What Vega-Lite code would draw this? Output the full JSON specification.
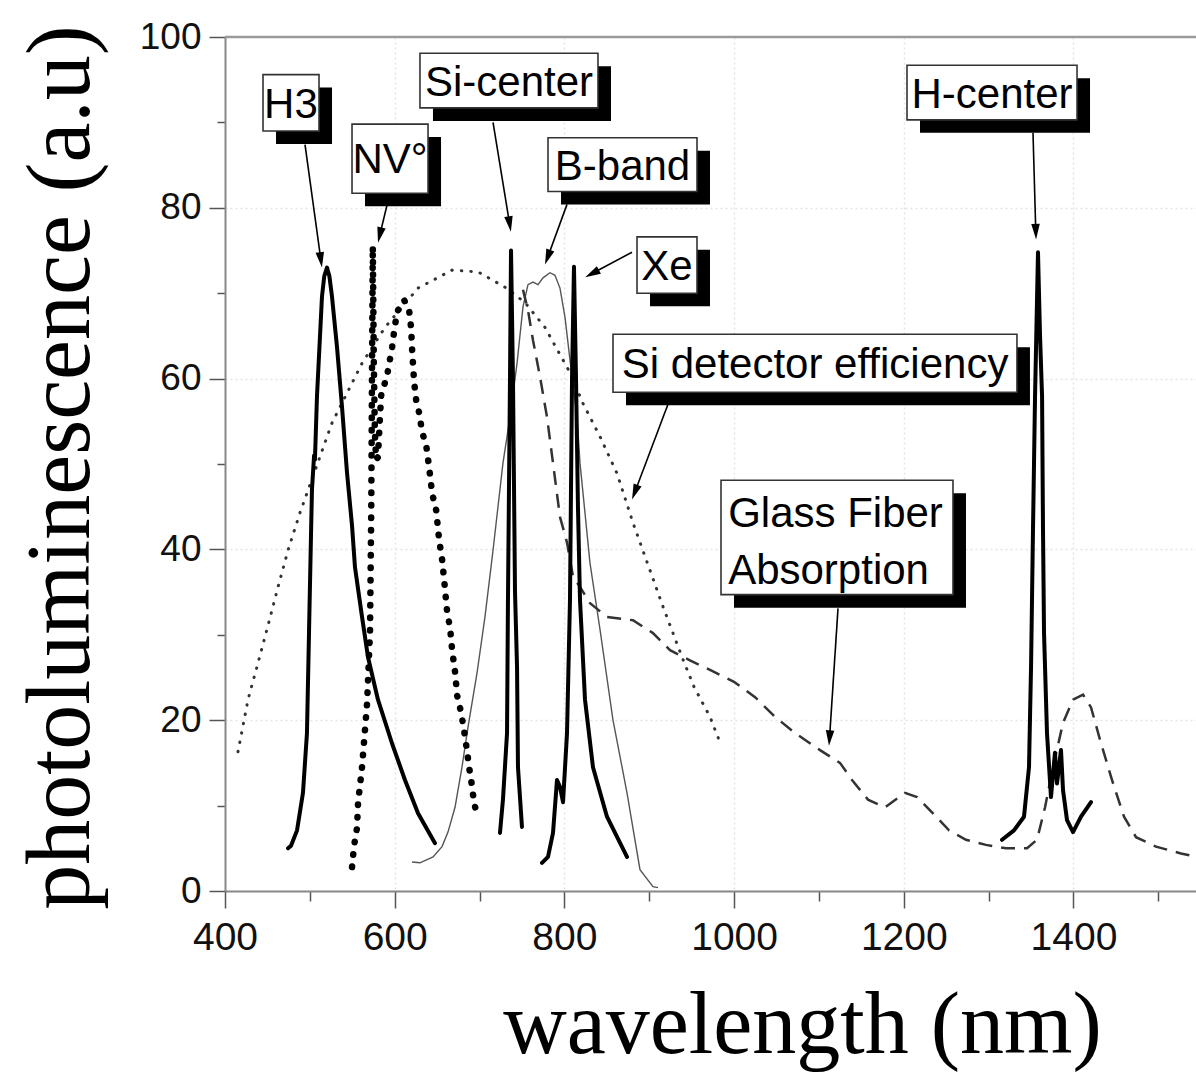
{
  "$schema": "https://vega.github.io/schema/vega-lite/v6.json",
  "autosize": {"type": "none"},
  "padding": {"left": 225, "top": 37, "right": 0, "bottom": 183},
  "width": 972,
  "height": 854,
  "background": "white",
  "config": {
    "view": {"stroke": null},
    "axis": {"domainColor": "#888", "domainWidth": 2, "tickColor": "#555", "tickWidth": 1.5}
  },
  "datasets": {
    "h3": [
      {"nm": 474.3, "pl": 5.0}, {"nm": 477.8, "pl": 5.3}, {"nm": 484.9, "pl": 7.1}, {"nm": 491.9, "pl": 11.5},
      {"nm": 496.6, "pl": 18.5}, {"nm": 499.0, "pl": 30.2}, {"nm": 501.4, "pl": 41.9}, {"nm": 502.5, "pl": 47.0},
      {"nm": 505.0, "pl": 51.0}, {"nm": 506.0, "pl": 50.5}, {"nm": 508.4, "pl": 57.9}, {"nm": 514.3, "pl": 69.6},
      {"nm": 517.0, "pl": 72.0}, {"nm": 520.2, "pl": 73.0}, {"nm": 523.0, "pl": 72.0}, {"nm": 526.1, "pl": 69.6},
      {"nm": 532.0, "pl": 63.7}, {"nm": 537.9, "pl": 56.7}, {"nm": 543.8, "pl": 49.0}, {"nm": 549.7, "pl": 42.8},
      {"nm": 553.2, "pl": 37.9}, {"nm": 561.5, "pl": 32.1}, {"nm": 568.5, "pl": 27.4}, {"nm": 580.3, "pl": 22.4},
      {"nm": 596.8, "pl": 17.3}, {"nm": 612.1, "pl": 13.0}, {"nm": 627.5, "pl": 9.1}, {"nm": 647.5, "pl": 5.6}
    ],
    "nv": [
      {"nm": 549.7, "pl": 2.8}, {"nm": 552.0, "pl": 5.2}, {"nm": 555.6, "pl": 7.4}, {"nm": 556.8, "pl": 10.3},
      {"nm": 561.5, "pl": 14.5}, {"nm": 567.4, "pl": 21.9}, {"nm": 570.9, "pl": 30.3}, {"nm": 572.4, "pl": 45.0},
      {"nm": 573.3, "pl": 62.0}, {"nm": 574.2, "pl": 75.5}, {"nm": 575.4, "pl": 62.0}, {"nm": 576.6, "pl": 54.0},
      {"nm": 578.0, "pl": 50.5}, {"nm": 580.3, "pl": 50.8}, {"nm": 582.7, "pl": 55.5}, {"nm": 584.0, "pl": 58.0},
      {"nm": 591.1, "pl": 60.4}, {"nm": 597.0, "pl": 63.7}, {"nm": 599.3, "pl": 65.5}, {"nm": 602.8, "pl": 67.8},
      {"nm": 611.1, "pl": 69.2}, {"nm": 617.0, "pl": 68.0}, {"nm": 619.4, "pl": 65.9}, {"nm": 620.6, "pl": 63.3},
      {"nm": 622.9, "pl": 59.6}, {"nm": 625.3, "pl": 57.5}, {"nm": 628.8, "pl": 56.0}, {"nm": 632.4, "pl": 53.7},
      {"nm": 637.1, "pl": 52.2}, {"nm": 640.6, "pl": 49.6}, {"nm": 644.2, "pl": 46.5}, {"nm": 648.9, "pl": 44.6},
      {"nm": 652.4, "pl": 41.1}, {"nm": 655.9, "pl": 38.8}, {"nm": 658.3, "pl": 36.4}, {"nm": 661.8, "pl": 32.7},
      {"nm": 665.3, "pl": 30.8}, {"nm": 667.7, "pl": 28.2}, {"nm": 671.2, "pl": 25.6}, {"nm": 673.6, "pl": 22.9},
      {"nm": 678.3, "pl": 20.9}, {"nm": 681.8, "pl": 18.8}, {"nm": 685.4, "pl": 16.3}, {"nm": 687.7, "pl": 14.5},
      {"nm": 690.1, "pl": 13.0}, {"nm": 693.6, "pl": 10.3}, {"nm": 697.2, "pl": 8.9}
    ],
    "sidet": [
      {"nm": 415.3, "pl": 16.3}, {"nm": 427.1, "pl": 22.4}, {"nm": 438.9, "pl": 26.7}, {"nm": 450.7, "pl": 31.1},
      {"nm": 462.5, "pl": 35.6}, {"nm": 474.3, "pl": 39.9}, {"nm": 488.4, "pl": 44.3}, {"nm": 526.1, "pl": 54.8},
      {"nm": 561.5, "pl": 61.8}, {"nm": 588.6, "pl": 66.0}, {"nm": 627.5, "pl": 70.6}, {"nm": 667.5, "pl": 72.7},
      {"nm": 698.2, "pl": 72.5}, {"nm": 730.0, "pl": 70.7}, {"nm": 753.6, "pl": 68.9}, {"nm": 777.1, "pl": 66.0},
      {"nm": 806.6, "pl": 60.7}, {"nm": 821.9, "pl": 57.1}, {"nm": 842.0, "pl": 53.2}, {"nm": 862.0, "pl": 48.9},
      {"nm": 880.9, "pl": 43.1}, {"nm": 916.2, "pl": 33.3}, {"nm": 938.6, "pl": 27.4}, {"nm": 952.8, "pl": 23.9},
      {"nm": 971.6, "pl": 20.4}, {"nm": 983.4, "pl": 17.4}
    ],
    "sicenter": [
      {"nm": 724.1, "pl": 6.8}, {"nm": 727.6, "pl": 10.7}, {"nm": 732.4, "pl": 18.5}, {"nm": 733.5, "pl": 34.1},
      {"nm": 735.9, "pl": 60.0}, {"nm": 737.1, "pl": 75.0}, {"nm": 739.4, "pl": 60.0}, {"nm": 741.8, "pl": 35.0},
      {"nm": 744.2, "pl": 26.2}, {"nm": 745.3, "pl": 14.5}, {"nm": 750.0, "pl": 7.5}
    ],
    "bband": [
      {"nm": 620.4, "pl": 3.4}, {"nm": 629.8, "pl": 3.3}, {"nm": 645.2, "pl": 4.0}, {"nm": 655.8, "pl": 5.2},
      {"nm": 662.8, "pl": 6.9}, {"nm": 671.1, "pl": 9.8}, {"nm": 679.3, "pl": 14.5}, {"nm": 686.4, "pl": 19.2},
      {"nm": 697.0, "pl": 25.5}, {"nm": 706.4, "pl": 32.1}, {"nm": 715.9, "pl": 39.9}, {"nm": 720.6, "pl": 44.0},
      {"nm": 727.6, "pl": 50.1}, {"nm": 735.9, "pl": 55.5}, {"nm": 744.2, "pl": 61.8}, {"nm": 751.2, "pl": 68.4},
      {"nm": 757.1, "pl": 71.0}, {"nm": 763.0, "pl": 71.3}, {"nm": 768.9, "pl": 71.0}, {"nm": 774.8, "pl": 71.8},
      {"nm": 783.0, "pl": 72.4}, {"nm": 788.9, "pl": 72.1}, {"nm": 794.8, "pl": 70.6}, {"nm": 800.7, "pl": 67.2},
      {"nm": 806.6, "pl": 62.2}, {"nm": 814.9, "pl": 55.5}, {"nm": 818.4, "pl": 50.1}, {"nm": 830.2, "pl": 38.4},
      {"nm": 842.0, "pl": 30.6}, {"nm": 857.3, "pl": 20.0}, {"nm": 873.8, "pl": 11.5}, {"nm": 889.1, "pl": 2.5},
      {"nm": 904.4, "pl": 0.5}, {"nm": 910.3, "pl": 0.4}
    ],
    "xe": [
      {"nm": 773.6, "pl": 3.3}, {"nm": 780.7, "pl": 4.0}, {"nm": 786.6, "pl": 6.8}, {"nm": 791.3, "pl": 13.0},
      {"nm": 794.8, "pl": 12.2}, {"nm": 798.4, "pl": 10.4}, {"nm": 803.1, "pl": 18.5}, {"nm": 806.6, "pl": 34.1},
      {"nm": 809.0, "pl": 60.0}, {"nm": 811.3, "pl": 73.1}, {"nm": 813.7, "pl": 60.0}, {"nm": 816.0, "pl": 45.0},
      {"nm": 818.4, "pl": 34.1}, {"nm": 824.3, "pl": 22.4}, {"nm": 833.7, "pl": 14.5}, {"nm": 850.2, "pl": 8.7},
      {"nm": 873.8, "pl": 4.0}
    ],
    "glass": [
      {"nm": 751.2, "pl": 70.4}, {"nm": 757.1, "pl": 68.0}, {"nm": 763.0, "pl": 64.5}, {"nm": 771.3, "pl": 60.2},
      {"nm": 779.5, "pl": 55.5}, {"nm": 786.6, "pl": 50.1}, {"nm": 794.8, "pl": 43.8}, {"nm": 803.1, "pl": 40.8},
      {"nm": 810.2, "pl": 36.8}, {"nm": 818.4, "pl": 35.6}, {"nm": 830.2, "pl": 33.7}, {"nm": 850.2, "pl": 32.1},
      {"nm": 880.9, "pl": 31.7}, {"nm": 904.4, "pl": 30.2}, {"nm": 924.5, "pl": 28.2}, {"nm": 948.0, "pl": 27.0},
      {"nm": 971.6, "pl": 25.9}, {"nm": 999.9, "pl": 24.5}, {"nm": 1024.7, "pl": 22.7}, {"nm": 1048.2, "pl": 20.4},
      {"nm": 1071.8, "pl": 18.5}, {"nm": 1101.3, "pl": 16.5}, {"nm": 1124.8, "pl": 15.0}, {"nm": 1139.0, "pl": 13.0},
      {"nm": 1157.8, "pl": 10.7}, {"nm": 1177.9, "pl": 9.8}, {"nm": 1201.4, "pl": 11.5}, {"nm": 1215.6, "pl": 11.0},
      {"nm": 1234.4, "pl": 9.1}, {"nm": 1253.3, "pl": 7.1}, {"nm": 1273.3, "pl": 6.0}, {"nm": 1296.9, "pl": 5.4},
      {"nm": 1320.5, "pl": 5.0}, {"nm": 1345.3, "pl": 5.0}, {"nm": 1357.0, "pl": 6.0}, {"nm": 1366.5, "pl": 9.8},
      {"nm": 1375.9, "pl": 14.5}, {"nm": 1387.7, "pl": 19.7}, {"nm": 1399.5, "pl": 22.4}, {"nm": 1411.3, "pl": 23.0},
      {"nm": 1420.7, "pl": 21.5}, {"nm": 1431.3, "pl": 17.7}, {"nm": 1445.4, "pl": 13.0}, {"nm": 1459.6, "pl": 8.7},
      {"nm": 1473.7, "pl": 6.3}, {"nm": 1497.3, "pl": 5.2}, {"nm": 1526.7, "pl": 4.4}, {"nm": 1544.4, "pl": 4.0}
    ],
    "hcenter": [
      {"nm": 1315.8, "pl": 6.0}, {"nm": 1329.9, "pl": 7.1}, {"nm": 1341.7, "pl": 8.7}, {"nm": 1347.6, "pl": 14.5},
      {"nm": 1350.0, "pl": 26.2}, {"nm": 1352.3, "pl": 42.3}, {"nm": 1354.7, "pl": 57.9}, {"nm": 1358.2, "pl": 74.8},
      {"nm": 1360.6, "pl": 65.0}, {"nm": 1363.0, "pl": 57.9}, {"nm": 1364.1, "pl": 42.3}, {"nm": 1365.3, "pl": 30.2},
      {"nm": 1368.8, "pl": 18.5}, {"nm": 1373.5, "pl": 11.0}, {"nm": 1378.2, "pl": 16.2}, {"nm": 1380.6, "pl": 12.6},
      {"nm": 1385.3, "pl": 16.5}, {"nm": 1387.7, "pl": 11.8}, {"nm": 1392.4, "pl": 8.3}, {"nm": 1399.5, "pl": 6.9},
      {"nm": 1408.9, "pl": 8.7}, {"nm": 1420.7, "pl": 10.4}
    ],
    "boxes": [
      {"label": "H3", "x1": 444.8, "x2": 510.8, "y1": 95.6, "y2": 89.0, "lx": 477.7, "ly": 92.3},
      {"label": "NV°", "x1": 549.7, "x2": 639.3, "y1": 89.8, "y2": 81.7, "lx": 594.5, "ly": 85.8},
      {"label": "Si-center", "x1": 629.8, "x2": 839.6, "y1": 98.1, "y2": 91.7, "lx": 734.7, "ly": 94.9},
      {"label": "B-band", "x1": 780.7, "x2": 956.3, "y1": 88.2, "y2": 81.9, "lx": 868.5, "ly": 85.0},
      {"label": "Xe", "x1": 885.6, "x2": 956.3, "y1": 76.6, "y2": 70.0, "lx": 920.9, "ly": 73.3},
      {"label": "H-center", "x1": 1203.8, "x2": 1404.2, "y1": 96.7, "y2": 90.3, "lx": 1304.0, "ly": 93.5},
      {"label": "Si detector efficiency", "x1": 857.3, "x2": 1333.4, "y1": 65.2, "y2": 58.4, "lx": 1095.4, "ly": 61.8},
      {"label": "Glass Fiber\nAbsorption", "x1": 984.6, "x2": 1258.0, "y1": 48.1, "y2": 34.7, "lx": 993.0, "ly": 44.4}
    ],
    "arrows": [
      {"a": "H3", "sx": 494.3, "sy": 87.4, "ex": 513.0, "ey": 73.9, "ang": 172},
      {"a": "NV", "sx": 590.9, "sy": 80.3, "ex": 582.4, "ey": 76.8, "ang": 193},
      {"a": "Si-center", "sx": 715.9, "sy": 90.0, "ex": 735.5, "ey": 78.1, "ang": 171},
      {"a": "B-band", "sx": 803.1, "sy": 80.4, "ex": 780.3, "ey": 74.2, "ang": 200},
      {"a": "Xe", "sx": 879.7, "sy": 74.8, "ex": 832.6, "ey": 72.3, "ang": 242},
      {"a": "H-center", "sx": 1352.3, "sy": 88.8, "ex": 1355.6, "ey": 77.2, "ang": 178},
      {"a": "Si detector", "sx": 922.1, "sy": 57.0, "ex": 883.0, "ey": 46.7, "ang": 201},
      {"a": "Glass", "sx": 1122.5, "sy": 33.1, "ex": 1112.5, "ey": 17.9, "ang": 184}
    ],
    "frame": [{"top": 100}]
  },
  "layer": [
    {
      "data": {"name": "sidet"},
      "mark": {"type": "line", "color": "#333", "strokeWidth": 3, "strokeDash": [0.5, 9], "strokeCap": "round", "clip": true},
      "encoding": {
        "x": {
          "field": "nm", "type": "quantitative",
          "scale": {"domain": [400, 1545.6], "nice": false, "zero": false},
          "axis": {
            "title": "wavelength (nm)",
            "titleFont": "Liberation Serif", "titleFontSize": 88, "titleFontWeight": "normal", "titleColor": "black",
            "titleX": 577, "titleY": 161, "titleBaseline": "alphabetic", "titleAnchor": null,
            "values": [400, 500, 600, 700, 800, 900, 1000, 1100, 1200, 1300, 1400, 1500],
            "format": "d",
            "labelExpr": "datum.value % 200 === 0 ? datum.label : ''",
            "labelFont": "Liberation Sans", "labelFontSize": 39, "labelColor": "#111",
            "labelPadding": 10, "labelOverlap": false, "labelFlush": false, "labelBound": false,
            "tickSize": {"condition": {"test": "datum.value % 200 === 0", "value": 17}, "value": 10},
            "grid": true, "gridColor": "#e4e4e4", "gridDash": [2, 3], "gridWidth": 1.5,
            "gridOpacity": {"condition": {"test": "datum.value % 200 === 0 && datum.value > 400", "value": 1}, "value": 0}
          }
        },
        "y": {
          "field": "pl", "type": "quantitative",
          "scale": {"domain": [0, 100], "nice": false, "zero": false},
          "axis": {
            "title": "photoluminescence (a.u)",
            "titleFont": "Liberation Serif", "titleFontSize": 90, "titleFontWeight": "normal", "titleColor": "black",
            "titleX": -137, "titleY": 430, "titleBaseline": "alphabetic", "titleAnchor": null, "titleAngle": -90,
            "values": [0, 10, 20, 30, 40, 50, 60, 70, 80, 90, 100],
            "labelExpr": "datum.value % 20 === 0 ? datum.label : ''",
            "labelFont": "Liberation Sans", "labelFontSize": 37, "labelColor": "#111",
            "labelPadding": 8, "labelOverlap": false, "labelFlush": false, "labelBound": false,
            "tickSize": {"condition": {"test": "datum.value % 20 === 0", "value": 16}, "value": 8},
            "grid": true, "gridColor": "#e4e4e4", "gridDash": [2, 3], "gridWidth": 1.5,
            "gridOpacity": {"condition": {"test": "datum.value % 20 === 0 && datum.value > 0 && datum.value < 100", "value": 1}, "value": 0}
          }
        }
      }
    },
    {
      "data": {"name": "frame"},
      "mark": {"type": "rule", "color": "#9a9a9a", "strokeWidth": 2.5},
      "encoding": {
        "y": {"field": "top", "type": "quantitative", "scale": {"domain": [0, 100], "nice": false, "zero": false}}
      }
    },
    {
      "data": {"name": "bband"},
      "mark": {"type": "line", "color": "#555", "strokeWidth": 1.4, "clip": true},
      "encoding": {
        "x": {"field": "nm", "type": "quantitative", "scale": {"domain": [400, 1545.6], "nice": false, "zero": false}},
        "y": {"field": "pl", "type": "quantitative", "scale": {"domain": [0, 100], "nice": false, "zero": false}}
      }
    },
    {
      "data": {"name": "glass"},
      "mark": {"type": "line", "color": "#333", "strokeWidth": 2.5, "strokeDash": [14, 9], "clip": true},
      "encoding": {
        "x": {"field": "nm", "type": "quantitative", "scale": {"domain": [400, 1545.6], "nice": false, "zero": false}},
        "y": {"field": "pl", "type": "quantitative", "scale": {"domain": [0, 100], "nice": false, "zero": false}}
      }
    },
    {
      "data": {"name": "nv"},
      "mark": {"type": "line", "color": "black", "strokeWidth": 6.5, "strokeDash": [0.5, 12], "strokeCap": "round", "clip": true},
      "encoding": {
        "x": {"field": "nm", "type": "quantitative", "scale": {"domain": [400, 1545.6], "nice": false, "zero": false}},
        "y": {"field": "pl", "type": "quantitative", "scale": {"domain": [0, 100], "nice": false, "zero": false}}
      }
    },
    {
      "data": {"name": "h3"},
      "mark": {"type": "line", "color": "black", "strokeWidth": 4, "strokeJoin": "round", "strokeCap": "round", "clip": true},
      "encoding": {
        "x": {"field": "nm", "type": "quantitative", "scale": {"domain": [400, 1545.6], "nice": false, "zero": false}},
        "y": {"field": "pl", "type": "quantitative", "scale": {"domain": [0, 100], "nice": false, "zero": false}}
      }
    },
    {
      "data": {"name": "sicenter"},
      "mark": {"type": "line", "color": "black", "strokeWidth": 4, "strokeJoin": "round", "strokeCap": "round", "clip": true},
      "encoding": {
        "x": {"field": "nm", "type": "quantitative", "scale": {"domain": [400, 1545.6], "nice": false, "zero": false}},
        "y": {"field": "pl", "type": "quantitative", "scale": {"domain": [0, 100], "nice": false, "zero": false}}
      }
    },
    {
      "data": {"name": "xe"},
      "mark": {"type": "line", "color": "black", "strokeWidth": 4, "strokeJoin": "round", "strokeCap": "round", "clip": true},
      "encoding": {
        "x": {"field": "nm", "type": "quantitative", "scale": {"domain": [400, 1545.6], "nice": false, "zero": false}},
        "y": {"field": "pl", "type": "quantitative", "scale": {"domain": [0, 100], "nice": false, "zero": false}}
      }
    },
    {
      "data": {"name": "hcenter"},
      "mark": {"type": "line", "color": "black", "strokeWidth": 4, "strokeJoin": "round", "strokeCap": "round", "clip": true},
      "encoding": {
        "x": {"field": "nm", "type": "quantitative", "scale": {"domain": [400, 1545.6], "nice": false, "zero": false}},
        "y": {"field": "pl", "type": "quantitative", "scale": {"domain": [0, 100], "nice": false, "zero": false}}
      }
    },
    {
      "data": {"name": "arrows"},
      "mark": {"type": "rule", "color": "black", "strokeWidth": 1.6},
      "encoding": {
        "x": {"field": "sx", "type": "quantitative", "scale": {"domain": [400, 1545.6], "nice": false, "zero": false}},
        "y": {"field": "sy", "type": "quantitative", "scale": {"domain": [0, 100], "nice": false, "zero": false}},
        "x2": {"field": "ex"},
        "y2": {"field": "ey"}
      }
    },
    {
      "data": {"name": "arrows"},
      "mark": {"type": "point", "filled": true, "color": "black", "opacity": 1, "size": 240, "shape": "M0,-1L0.55,1L-0.55,1Z"},
      "encoding": {
        "x": {"field": "ex", "type": "quantitative", "scale": {"domain": [400, 1545.6], "nice": false, "zero": false}},
        "y": {"field": "ey", "type": "quantitative", "scale": {"domain": [0, 100], "nice": false, "zero": false}},
        "angle": {"field": "ang", "type": "quantitative", "scale": null}
      }
    },
    {
      "data": {"name": "boxes"},
      "mark": {"type": "rect", "color": "black", "xOffset": 13, "x2Offset": 13, "yOffset": 13, "y2Offset": 13},
      "encoding": {
        "x": {"field": "x1", "type": "quantitative", "scale": {"domain": [400, 1545.6], "nice": false, "zero": false}},
        "x2": {"field": "x2"},
        "y": {"field": "y1", "type": "quantitative", "scale": {"domain": [0, 100], "nice": false, "zero": false}},
        "y2": {"field": "y2"}
      }
    },
    {
      "data": {"name": "boxes"},
      "mark": {"type": "rect", "fill": "white", "stroke": "#333", "strokeWidth": 1.6},
      "encoding": {
        "x": {"field": "x1", "type": "quantitative", "scale": {"domain": [400, 1545.6], "nice": false, "zero": false}},
        "x2": {"field": "x2"},
        "y": {"field": "y1", "type": "quantitative", "scale": {"domain": [0, 100], "nice": false, "zero": false}},
        "y2": {"field": "y2"}
      }
    },
    {
      "data": {"name": "boxes"},
      "transform": [{"filter": "datum.label !== 'Glass Fiber\\nAbsorption'"}],
      "mark": {"type": "text", "font": "Liberation Sans", "fontSize": 42, "color": "black", "align": "center", "baseline": "middle", "dy": 2},
      "encoding": {
        "x": {"field": "lx", "type": "quantitative", "scale": {"domain": [400, 1545.6], "nice": false, "zero": false}},
        "y": {"field": "ly", "type": "quantitative", "scale": {"domain": [0, 100], "nice": false, "zero": false}},
        "text": {"field": "label"}
      }
    },
    {
      "data": {"name": "boxes"},
      "transform": [{"filter": "datum.label === 'Glass Fiber\\nAbsorption'"}],
      "mark": {"type": "text", "font": "Liberation Sans", "fontSize": 42, "color": "black", "align": "left", "baseline": "middle", "lineBreak": "\n", "lineHeight": 57, "dy": 2},
      "encoding": {
        "x": {"field": "lx", "type": "quantitative", "scale": {"domain": [400, 1545.6], "nice": false, "zero": false}},
        "y": {"field": "ly", "type": "quantitative", "scale": {"domain": [0, 100], "nice": false, "zero": false}},
        "text": {"field": "label"}
      }
    }
  ]
}
